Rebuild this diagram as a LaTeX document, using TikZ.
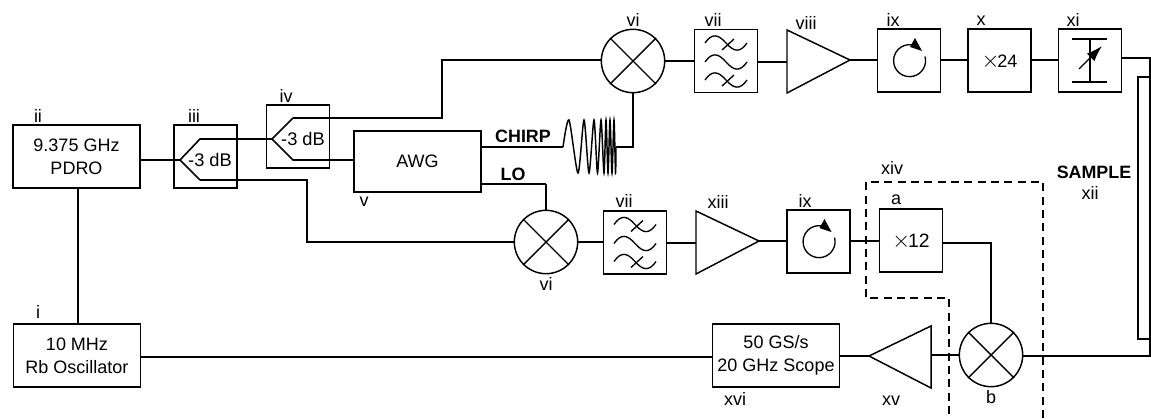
\documentclass[tikz,border=0pt]{standalone}
\usepackage{fontspec}
\setmainfont{Liberation Sans}
\usetikzlibrary{arrows.meta}
\tikzset{
  x=0.75pt,y=-0.75pt,
  wire/.style={line width=1.2pt,line join=miter},
  thinwire/.style={line width=1.1pt,line join=miter},
  boxed/.style={draw,line width=1.1pt,minimum width=47.5pt,minimum height=47.5pt,inner sep=0pt,align=center,font=\fontsize{13.5}{17.2}\selectfont,fill=none},
  wide/.style={boxed,minimum width=95pt},
  mixer/.style={draw,circle,line width=1.1pt,minimum size=47.5pt,inner sep=0pt},
  tag/.style={font=\fontsize{13.5}{15}\selectfont,inner sep=0pt},
  boldtag/.style={font=\bfseries\fontsize{13.4}{15}\selectfont,inner sep=0pt},
  amp/.style={line width=1.1pt,line join=miter},
}
\newcommand{\mixercross}[1]{\draw[line width=1.05pt] (#1.45)--(#1.225) (#1.135)--(#1.315);}
\newcommand{\filtersym}[1]{%
  \begin{scope}[shift={(#1)},line width=1pt]
  \foreach \yy in {-18,1,19}{\draw (-21,\yy) .. controls (-14,\yy-10) and (-8,\yy-9) .. (0,\yy) .. controls (8,\yy+9) and (14,\yy+10) .. (21,\yy);}
  \draw (-4,-11)--(8,-22) (-4,25)--(8,14);
  \end{scope}}
\newcommand{\circsym}[1]{%
  \begin{scope}[shift={(#1)}]
  \draw[line width=1pt] (16,-4) arc (-15:280:16);
  \fill (6,-22.5)--(13,-9.5)--(1,-13.5)--cycle;
  \end{scope}}
\newcommand{\bigcross}{{\fontsize{17}{17}\selectfont$\times$}}
\begin{document}
\begin{tikzpicture}
\useasboundingbox (0,0) rectangle (1151,418);
% boxes
\node[wide] (pdro) at (76.5,156.5) {9.375 GHz\\PDRO};
\node[boxed] (sp3) at (205.5,156.5) {};
\node[boxed] (sp4) at (298,136.5) {};
\node[wide,minimum height=46pt] (awg) at (417.5,161.5) {AWG};
\node[mixer] (mixtop) at (633,61) {};
\node[boxed] (filtop) at (726,61) {};
\node[boxed] (circtop) at (909,60.5) {};
\node[boxed] (mul24) at (999.5,60.5) {};
\node[boxed] (att) at (1090,60.5) {};
\node[mixer] (mixlow) at (546,242) {};
\node[boxed] (fillow) at (635,242.5) {};
\node[boxed] (circlow) at (818.5,241.5) {};
\node[boxed] (mul12) at (911,240.5) {};
\node[mixer] (mixb) at (991,355) {};
\node[wide] (scope) at (776,355.5) {50 GS/s\\20 GHz Scope};
\node[wide] (rb) at (77,355.5) {10 MHz\\Rb Oscillator};
\node[inner sep=0pt,font=\fontsize{13.5}{15}\selectfont] (x24) at (999.5,62) {\bigcross\kern-1.5pt 24};
\node[inner sep=0pt,font=\fontsize{14.5}{15}\selectfont] (x12) at (911,242) {\bigcross\kern-1.5pt 12};
\mixercross{mixtop}\mixercross{mixlow}\mixercross{mixb}
\filtersym{726,61}\filtersym{635,242.5}
\circsym{909,60.5}\circsym{818.5,241.5}
% amplifiers
\draw[amp] (787,30)--(850,60)--(787,93)--cycle;
\draw[amp] (696,211)--(759,241)--(696,274)--cycle;
\draw[amp] (931,326)--(869,356)--(931,388)--cycle;
\coordinate (amp8in) at (787,62); \coordinate (amp8out) at (850,60);
\coordinate (amp13in) at (696,243); \coordinate (amp13out) at (759,241);
\coordinate (amp15in) at (931,355); \coordinate (amp15out) at (869,356);
% attenuator
\draw[line width=1.1pt] (1072,39)--(1107,39) (1072,82)--(1107,82) (1090,39)--(1090,82);
\draw[line width=1pt,-{Latex[length=12pt,width=8pt]}] (1079,69)--(1102,46);
% splitters
\coordinate (ap3) at (180,160); \coordinate (ap4) at (272,139);
\draw[wire] (pdro.east|-ap3)--(ap3);
\draw[wire] (ap3)--(200,139)--(ap4);
\draw[wire] (ap4)--(293,118);
\draw[thinwire] (293,118.2)--(442.2,118.2)--(442.2,60.2)--(mixtop.west|-0,60.2);
\draw[wire] (ap4)--(293,160)--(awg.west|-0,160);
\draw[wire] (ap3)--(200,180);
\draw[thinwire] (200,180.2)--(307.2,180.2)--(307.2,242.2)--(mixlow.west|-0,242.2);
\node[font=\fontsize{13.7}{15}\selectfont,inner sep=0pt] (l3) at (210,160) {-3 dB};
\node[font=\fontsize{13.7}{15}\selectfont,inner sep=0pt] (l4) at (303,139) {-3 dB};
% vertical
\coordinate (vtop) at (78,188); \coordinate (hleft) at (140,357);
\draw[wire] (vtop)--(rb.north-|vtop);
\draw[wire] (rb.east|-hleft)--(scope.west|-hleft);
% chirp
\coordinate (chin) at (563,147); \coordinate (chout) at (616,147);
\draw[wire] (awg.east|-chin)--(chin);
\draw[line width=1.1pt] plot[smooth,tension=.45] coordinates {(chin) (569,120) (578,173) (584,120) (589,173) (594,120) (597.5,173) (601,120) (604,173) (606,120) (608,173) (610,120) (612,173) (614,120) (615.5,173) (chout)};
\draw[wire] (chout)--(633,147)--(mixtop.south);
\draw[thinwire] (awg.east|-0,184.2)--(546,184.2);
\draw[wire] (546,184)--(mixlow.north);
% signal chain
\coordinate (lowmid) at (0,242);
\draw[wire] (mixtop.east)--(filtop.west);
\draw[wire] (filtop.east|-amp8in)--(amp8in);
\draw[wire] (amp8out)--(circtop.west|-amp8out);
\draw[wire] (circtop.east|-amp8out)--(mul24.west|-amp8out);
\draw[wire] (mul24.east|-amp8out)--(att.west|-amp8out);
\draw[thinwire] (att.east|-0,58.2)--(1150.2,58.2)--(1150.2,356.2)--(mixb.east|-0,356.2);
\node[draw,line width=1pt,minimum width=9pt,inner sep=0pt,minimum height=196.5pt] (sample) at (1144,208) {};
\draw[wire] (mixlow.east)--(fillow.west|-lowmid);
\draw[wire] (fillow.east|-amp13in)--(amp13in);
\draw[wire] (amp13out)--(circlow.west|-amp13out);
\draw[wire] (circlow.east|-amp13out)--(mul12.west|-amp13out);
\draw[thinwire] (mul12.east|-0,243.2)--(991.2,243.2)--(mixb.north-|991.2,0);
\draw[wire] (mixb.west)--(amp15in);
\draw[wire] (amp15out)--(scope.east|-amp15out);
% dashed region
\draw[line width=1pt,dash pattern=on 6pt off 4pt] (1043,418)--(1043,182)--(866,182)--(866,298)--(949,298)--(949,418);
% labels
\node[tag] (t1) at (38,312) {i};
\node[tag] (t2) at (38,116) {ii};
\node[tag] (t3) at (194,116) {iii};
\node[tag] (t4) at (286,96) {iv};
\node[tag] (t5) at (364,202) {v};
\node[tag] (t6) at (633,20) {vi};
\node[tag] (t7) at (713,20) {vii};
\node[tag] (t8) at (806,23) {viii};
\node[tag] (t9) at (893,20) {ix};
\node[tag] (t10) at (981,21) {x};
\node[tag] (t11) at (1073,20) {xi};
\node[tag] (t6b) at (546,284) {vi};
\node[tag] (t7b) at (624,201) {vii};
\node[tag] (t13) at (718,202) {xiii};
\node[tag] (t9b) at (805,201) {ix};
\node[tag] (ta) at (896,200) {a};
\node[tag] (tb) at (991,397) {b};
\node[tag] (t14) at (892,168) {xiv};
\node[tag] (t15) at (891,401) {xv};
\node[tag] (t16) at (735,399) {xvi};
\node[tag] (t12) at (1090,193) {xii};
\node[boldtag] (sm) at (1094,172) {SAMPLE};
\node[boldtag] (ch) at (523,136) {CHIRP};
\node[boldtag] (lo) at (513,174) {LO};
\end{tikzpicture}
\end{document}
